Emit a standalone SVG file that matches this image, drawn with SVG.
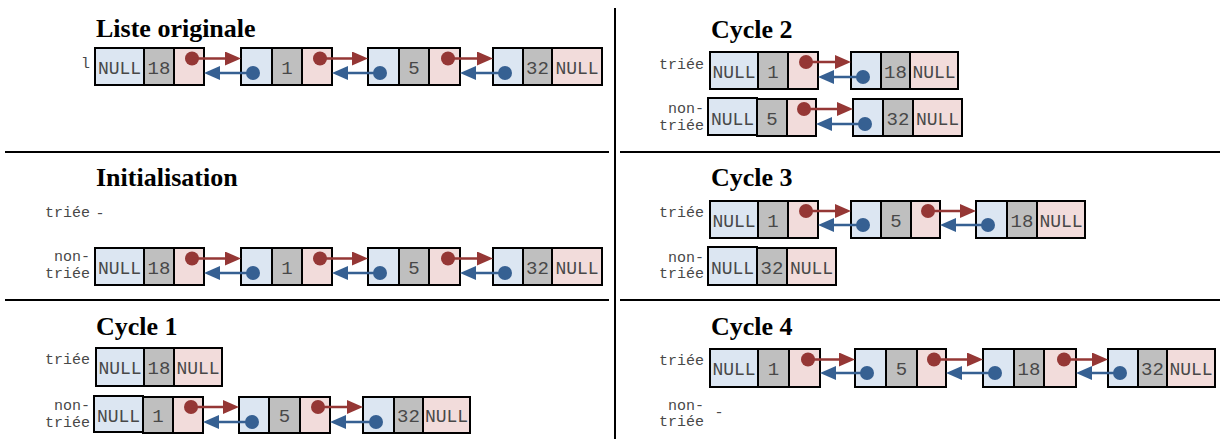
<svg xmlns="http://www.w3.org/2000/svg" width="1220" height="439" viewBox="0 0 1220 439">
<defs>
<style>
.b{fill:#dce6f2;stroke:#000;stroke-width:2}
.g{fill:#bfbfbf;stroke:#000;stroke-width:2}
.k{fill:#f2dcdb;stroke:#000;stroke-width:2}
.t{font-family:"Liberation Mono",monospace;font-size:18px;fill:#484848;text-anchor:middle}
.n{font-size:19px}
.l{font-family:"Liberation Mono",monospace;font-size:15px;fill:#484848;text-anchor:end}
.d{font-family:"Liberation Mono",monospace;font-size:15px;fill:#484848;text-anchor:middle}
.h{font-family:"Liberation Serif",serif;font-size:26px;font-weight:bold;fill:#000}
.r{stroke:#953735;stroke-width:2.5;fill:none;marker-end:url(#ar)}
.u{stroke:#366092;stroke-width:2.5;fill:none;marker-end:url(#au)}
.rd{fill:#953735}
.ud{fill:#366092}
.sep{stroke:#000;stroke-width:2;fill:none}
</style>
<marker id="ar" markerUnits="userSpaceOnUse" markerWidth="16" markerHeight="14" refX="8" refY="7" orient="auto"><path d="M0,0L16,7L0,14z" fill="#953735"/></marker>
<marker id="au" markerUnits="userSpaceOnUse" markerWidth="16" markerHeight="14" refX="8" refY="7" orient="auto"><path d="M0,0L16,7L0,14z" fill="#366092"/></marker>
</defs>

<g id="separators">
<line class="sep" x1="615" y1="8" x2="615" y2="439"/>
<line class="sep" x1="5" y1="152" x2="609" y2="152"/>
<line class="sep" x1="620" y1="152" x2="1220" y2="152"/>
<line class="sep" x1="5" y1="300" x2="609" y2="300"/>
<line class="sep" x1="620" y1="300" x2="1220" y2="300"/>
</g>

<g id="titles">
<text class="h" x="96" y="37">Liste originale</text>
<text class="h" x="96" y="186">Initialisation</text>
<text class="h" x="96" y="335">Cycle 1</text>
<text class="h" x="711" y="38">Cycle 2</text>
<text class="h" x="711" y="186">Cycle 3</text>
<text class="h" x="711" y="335">Cycle 4</text>
</g>

<g id="labels">
<text class="l" x="90" y="68">l</text>
<text class="l" x="90" y="217">triée</text>
<text class="d" x="100" y="218">-</text>
<text class="l" x="90" y="261">non-</text>
<text class="l" x="90" y="278">triée</text>
<text class="l" x="90" y="364">triée</text>
<text class="l" x="90" y="410">non-</text>
<text class="l" x="90" y="427">triée</text>
<text class="l" x="704" y="69">triée</text>
<text class="l" x="704" y="113">non-</text>
<text class="l" x="704" y="130">triée</text>
<text class="l" x="704" y="217">triée</text>
<text class="l" x="704" y="262">non-</text>
<text class="l" x="704" y="278">triée</text>
<text class="l" x="704" y="365">triée</text>
<text class="l" x="704" y="410">non-</text>
<text class="l" x="704" y="426">triée</text>
<text class="d" x="719" y="417">-</text>
</g>

<!-- Liste originale -->
<g id="a1"><rect class="b" x="95" y="48" width="49" height="37"/><rect class="g" x="144" y="48" width="30" height="37"/><rect class="k" x="174" y="48" width="30" height="37"/><text class="t" x="119.5" y="74">NULL</text><text class="t n" x="159" y="74">18</text></g>
<g id="a2"><rect class="b" x="241" y="48" width="31" height="37"/><rect class="g" x="272" y="48" width="30" height="37"/><rect class="k" x="302" y="48" width="30" height="37"/><text class="t n" x="287" y="74">1</text></g>
<g id="a3"><rect class="b" x="368" y="48" width="31" height="37"/><rect class="g" x="399" y="48" width="30" height="37"/><rect class="k" x="429" y="48" width="31" height="37"/><text class="t n" x="414" y="74">5</text></g>
<g id="a4"><rect class="b" x="493" y="48" width="30" height="37"/><rect class="g" x="523" y="48" width="29" height="37"/><rect class="k" x="552" y="48" width="50" height="37"/><text class="t n" x="537.5" y="74">32</text><text class="t" x="577" y="74">NULL</text></g>

<!-- Initialisation -->
<g id="b1"><rect class="b" x="95" y="248" width="49" height="37"/><rect class="g" x="144" y="248" width="30" height="37"/><rect class="k" x="174" y="248" width="30" height="37"/><text class="t" x="119.5" y="274">NULL</text><text class="t n" x="159" y="274">18</text></g>
<g id="b2"><rect class="b" x="241" y="248" width="31" height="37"/><rect class="g" x="272" y="248" width="30" height="37"/><rect class="k" x="302" y="248" width="30" height="37"/><text class="t n" x="287" y="274">1</text></g>
<g id="b3"><rect class="b" x="368" y="248" width="31" height="37"/><rect class="g" x="399" y="248" width="30" height="37"/><rect class="k" x="429" y="248" width="31" height="37"/><text class="t n" x="414" y="274">5</text></g>
<g id="b4"><rect class="b" x="493" y="248" width="30" height="37"/><rect class="g" x="523" y="248" width="29" height="37"/><rect class="k" x="552" y="248" width="50" height="37"/><text class="t n" x="537.5" y="274">32</text><text class="t" x="577" y="274">NULL</text></g>

<!-- Cycle 1 -->
<g id="c1"><rect class="b" x="96" y="348" width="48" height="38"/><rect class="g" x="144" y="348" width="30" height="38"/><rect class="k" x="174" y="348" width="48" height="38"/><text class="t" x="120" y="374">NULL</text><text class="t n" x="159" y="374">18</text><text class="t" x="198" y="374">NULL</text></g>
<g id="d1"><rect class="b" x="94" y="396" width="49" height="36"/><rect class="g" x="143" y="397" width="30" height="36"/><rect class="k" x="173" y="397" width="30" height="36"/><text class="t" x="118.5" y="422">NULL</text><text class="t n" x="158" y="422">1</text></g>
<g id="d2"><rect class="b" x="239" y="397" width="30" height="36"/><rect class="g" x="269" y="397" width="31" height="36"/><rect class="k" x="300" y="397" width="30" height="36"/><text class="t n" x="284.5" y="422">5</text></g>
<g id="d3"><rect class="b" x="363" y="397" width="31" height="36"/><rect class="g" x="394" y="397" width="29" height="36"/><rect class="k" x="423" y="397" width="47" height="36"/><text class="t n" x="408.5" y="422">32</text><text class="t" x="446.5" y="422">NULL</text></g>

<!-- Cycle 2 -->
<g id="e1"><rect class="b" x="710" y="52" width="48" height="37"/><rect class="g" x="758" y="52" width="30" height="37"/><rect class="k" x="788" y="52" width="30" height="37"/><text class="t" x="734" y="78">NULL</text><text class="t n" x="773" y="78">1</text></g>
<g id="e2"><rect class="b" x="851" y="52" width="30" height="37"/><rect class="g" x="881" y="52" width="29" height="37"/><rect class="k" x="910" y="52" width="48" height="37"/><text class="t n" x="895.5" y="78">18</text><text class="t" x="934" y="78">NULL</text></g>
<g id="f1"><rect class="b" x="708" y="98" width="49" height="37"/><rect class="g" x="757" y="99" width="30" height="37"/><rect class="k" x="787" y="99" width="29" height="37"/><text class="t" x="732.5" y="125">NULL</text><text class="t n" x="772" y="125">5</text></g>
<g id="f2"><rect class="b" x="853" y="99" width="30" height="37"/><rect class="g" x="883" y="99" width="30" height="37"/><rect class="k" x="913" y="99" width="49" height="37"/><text class="t n" x="898" y="125">32</text><text class="t" x="937.5" y="125">NULL</text></g>

<!-- Cycle 3 -->
<g id="g1"><rect class="b" x="710" y="201" width="48" height="37"/><rect class="g" x="758" y="201" width="30" height="37"/><rect class="k" x="788" y="201" width="30" height="37"/><text class="t" x="734" y="227">NULL</text><text class="t n" x="773" y="227">1</text></g>
<g id="g2"><rect class="b" x="851" y="201" width="30" height="37"/><rect class="g" x="881" y="201" width="30" height="37"/><rect class="k" x="911" y="201" width="29" height="37"/><text class="t n" x="896" y="227">5</text></g>
<g id="g3"><rect class="b" x="976" y="201" width="31" height="37"/><rect class="g" x="1007" y="201" width="30" height="37"/><rect class="k" x="1037" y="201" width="48" height="37"/><text class="t n" x="1022" y="227">18</text><text class="t" x="1061" y="227">NULL</text></g>
<g id="h1"><rect class="b" x="708" y="247" width="49" height="38"/><rect class="g" x="757" y="248" width="30" height="37"/><rect class="k" x="787" y="248" width="49" height="37"/><text class="t" x="732.5" y="274">NULL</text><text class="t n" x="772" y="274">32</text><text class="t" x="811.5" y="274">NULL</text></g>

<!-- Cycle 4 -->
<g id="i1"><rect class="b" x="710" y="349" width="48" height="38"/><rect class="g" x="758" y="349" width="31" height="38"/><rect class="k" x="789" y="349" width="31" height="38"/><text class="t" x="734" y="375">NULL</text><text class="t n" x="773.5" y="375">1</text></g>
<g id="i2"><rect class="b" x="855" y="349" width="31" height="38"/><rect class="g" x="886" y="349" width="31" height="38"/><rect class="k" x="917" y="349" width="29" height="38"/><text class="t n" x="901.5" y="375">5</text></g>
<g id="i3"><rect class="b" x="983" y="349" width="31" height="38"/><rect class="g" x="1014" y="349" width="30" height="38"/><rect class="k" x="1044" y="349" width="32" height="38"/><text class="t n" x="1029" y="375">18</text></g>
<g id="i4"><rect class="b" x="1108" y="349" width="30" height="38"/><rect class="g" x="1138" y="349" width="29" height="38"/><rect class="k" x="1167" y="349" width="48" height="38"/><text class="t n" x="1152.5" y="375">32</text><text class="t" x="1191" y="375">NULL</text></g>

<g id="connectors">
<!-- Liste originale -->
<circle class="rd" cx="192" cy="58.5" r="7"/><line class="r" x1="192" y1="58.5" x2="233" y2="58.5"/>
<circle class="ud" cx="253" cy="73" r="7"/><line class="u" x1="253" y1="73" x2="212" y2="73"/>
<circle class="rd" cx="320" cy="58.5" r="7"/><line class="r" x1="320" y1="58.5" x2="360" y2="58.5"/>
<circle class="ud" cx="380" cy="73" r="7"/><line class="u" x1="380" y1="73" x2="340" y2="73"/>
<circle class="rd" cx="448" cy="58.5" r="7"/><line class="r" x1="448" y1="58.5" x2="485" y2="58.5"/>
<circle class="ud" cx="505" cy="73" r="7"/><line class="u" x1="505" y1="73" x2="468" y2="73"/>
<!-- Initialisation -->
<circle class="rd" cx="192" cy="258.5" r="7"/><line class="r" x1="192" y1="258.5" x2="233" y2="258.5"/>
<circle class="ud" cx="253" cy="273" r="7"/><line class="u" x1="253" y1="273" x2="212" y2="273"/>
<circle class="rd" cx="320" cy="258.5" r="7"/><line class="r" x1="320" y1="258.5" x2="360" y2="258.5"/>
<circle class="ud" cx="380" cy="273" r="7"/><line class="u" x1="380" y1="273" x2="340" y2="273"/>
<circle class="rd" cx="448" cy="258.5" r="7"/><line class="r" x1="448" y1="258.5" x2="485" y2="258.5"/>
<circle class="ud" cx="505" cy="273" r="7"/><line class="u" x1="505" y1="273" x2="468" y2="273"/>
<!-- Cycle 1 -->
<circle class="rd" cx="191" cy="407" r="7"/><line class="r" x1="191" y1="407" x2="231" y2="407"/>
<circle class="ud" cx="252" cy="422" r="7"/><line class="u" x1="252" y1="422" x2="211" y2="422"/>
<circle class="rd" cx="318" cy="407" r="7"/><line class="r" x1="318" y1="407" x2="355" y2="407"/>
<circle class="ud" cx="376" cy="422" r="7"/><line class="u" x1="376" y1="422" x2="338" y2="422"/>
<!-- Cycle 2 -->
<circle class="rd" cx="806" cy="62" r="7"/><line class="r" x1="806" y1="62" x2="843" y2="62"/>
<circle class="ud" cx="863" cy="77" r="7"/><line class="u" x1="863" y1="77" x2="826" y2="77"/>
<circle class="rd" cx="804" cy="109" r="7"/><line class="r" x1="804" y1="109" x2="845" y2="109"/>
<circle class="ud" cx="865" cy="124" r="7"/><line class="u" x1="865" y1="124" x2="824" y2="124"/>
<!-- Cycle 3 -->
<circle class="rd" cx="806" cy="211" r="7"/><line class="r" x1="806" y1="211" x2="843" y2="211"/>
<circle class="ud" cx="863" cy="225" r="7"/><line class="u" x1="863" y1="225" x2="826" y2="225"/>
<circle class="rd" cx="928" cy="211" r="7"/><line class="r" x1="928" y1="211" x2="968" y2="211"/>
<circle class="ud" cx="988" cy="225" r="7"/><line class="u" x1="988" y1="225" x2="948" y2="225"/>
<!-- Cycle 4 -->
<circle class="rd" cx="808" cy="359.5" r="7"/><line class="r" x1="808" y1="359.5" x2="847" y2="359.5"/>
<circle class="ud" cx="867" cy="373" r="7"/><line class="u" x1="867" y1="373" x2="828" y2="373"/>
<circle class="rd" cx="934" cy="359.5" r="7"/><line class="r" x1="934" y1="359.5" x2="975" y2="359.5"/>
<circle class="ud" cx="995" cy="373" r="7"/><line class="u" x1="995" y1="373" x2="954" y2="373"/>
<circle class="rd" cx="1064" cy="359.5" r="7"/><line class="r" x1="1064" y1="359.5" x2="1100" y2="359.5"/>
<circle class="ud" cx="1120" cy="373" r="7"/><line class="u" x1="1120" y1="373" x2="1084" y2="373"/>
</g>
</svg>
